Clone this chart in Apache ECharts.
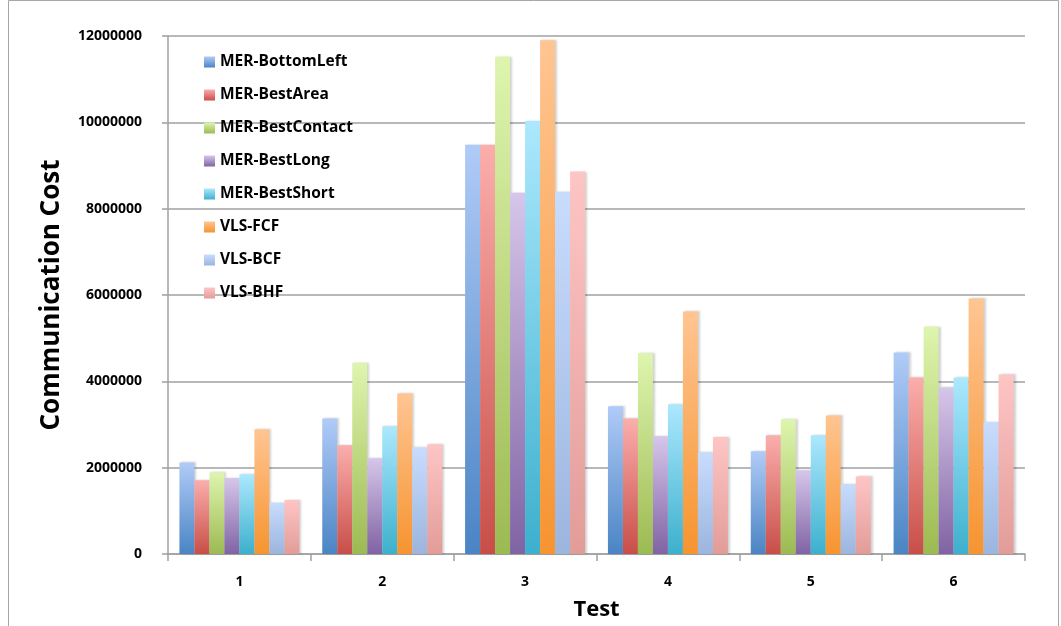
<!DOCTYPE html>
<html>
<head>
<meta charset="utf-8">
<script src="https://cdn.jsdelivr.net/npm/echarts@6/dist/echarts.min.js"></script>
<style>
  html, body { margin: 0; padding: 0; background: #fff; }
  #chart { width: 1061px; height: 626px; }
</style>
</head>
<body>
<div id="chart"></div>
<script>
// Test cases along the x axis
const categories = ['1', '2', '3', '4', '5', '6'];

// Communication cost per placement strategy, one value per test
const merBottomLeft  = [2120000, 3140000, 9480000, 3420000, 2380000, 4670000];
const merBestArea    = [1710000, 2520000, 9480000, 3140000, 2750000, 4090000];
const merBestContact = [1890000, 4430000, 11520000, 4650000, 3120000, 5270000];
const merBestLong    = [1760000, 2220000, 8370000, 2730000, 1940000, 3860000];
const merBestShort   = [1850000, 2960000, 10030000, 3470000, 2750000, 4090000];
const vlsFCF         = [2890000, 3720000, 11900000, 5620000, 3210000, 5920000];
const vlsBCF         = [1190000, 2470000, 8390000, 2360000, 1620000, 3050000];
const vlsBHF         = [1250000, 2540000, 8860000, 2710000, 1800000, 4160000];

const seriesNames = ['MER-BottomLeft', 'MER-BestArea', 'MER-BestContact', 'MER-BestLong',
                     'MER-BestShort', 'VLS-FCF', 'VLS-BCF', 'VLS-BHF'];
const seriesValues = [merBottomLeft, merBestArea, merBestContact, merBestLong,
                      merBestShort, vlsFCF, vlsBCF, vlsBHF];

// Tick values on the cost axis
const yTicks = [0, 2000000, 4000000, 6000000, 8000000, 10000000, 12000000];

// [top, bottom] gradient stops for each series
const palette = [
  ['#b0cbf7', '#4a84c4'],
  ['#fbaeac', '#c84e48'],
  ['#def5ae', '#9cba52'],
  ['#d6c6ea', '#8063a4'],
  ['#ace8fd', '#3cb0cd'],
  ['#ffc592', '#f69430'],
  ['#c8dcfd', '#9cb5de'],
  ['#fec5c5', '#e29c98']
];

const grad = (c) => new echarts.graphic.LinearGradient(0, 0, 0, 1, [
  { offset: 0, color: c[0] },
  { offset: 1, color: c[1] }
]);

const chart = echarts.init(document.getElementById('chart'), null, { renderer: 'canvas' });
const font = '"Open Sans", sans-serif';

chart.setOption({
  animation: false,
  backgroundColor: '#ffffff',
  textStyle: { fontFamily: font },
  graphic: [{
    type: 'rect',
    shape: { x: 8.5, y: 0.5, width: 1050, height: 640 },
    style: { fill: 'none', stroke: '#a6a6a6', lineWidth: 1 },
    silent: true
  }],
  legend: {
    orient: 'vertical',
    left: 199,
    top: 49,
    itemWidth: 11,
    itemHeight: 11,
    itemGap: 17,
    icon: 'rect',
    textStyle: { fontFamily: font, fontWeight: 'bold', fontSize: 15.5, lineHeight: 14, color: '#000' },
    data: seriesNames
  },
  grid: { left: 168, right: 36, top: 36, bottom: 71, containLabel: false },
  xAxis: {
    type: 'category',
    data: categories,
    name: 'Test',
    nameLocation: 'middle',
    nameGap: 45,
    nameTextStyle: { fontFamily: font, fontWeight: 'bold', fontSize: 22, color: '#000' },
    axisLine: { lineStyle: { color: '#a0a0a0', width: 1.5 } },
    axisTick: { show: true, alignWithLabel: false, length: 7, lineStyle: { color: '#a0a0a0', width: 1.5 } },
    axisLabel: { fontFamily: font, fontWeight: 'bold', fontSize: 14, color: '#000', margin: 21 }
  },
  yAxis: {
    type: 'value',
    min: 0,
    max: 12000000,
    interval: 2000000,
    name: 'Communication Cost',
    nameLocation: 'middle',
    nameGap: 103,
    nameRotate: 90,
    nameTextStyle: { fontFamily: font, fontWeight: 'bold', fontSize: 26, color: '#000' },
    axisLine: { show: true, lineStyle: { color: '#a0a0a0', width: 1.5 } },
    axisTick: { show: true, length: 6, lineStyle: { color: '#a0a0a0', width: 1.5 } },
    axisLabel: {
      fontFamily: font, fontWeight: 'bold', fontSize: 14, color: '#000', margin: 26,
      formatter: (v) => (yTicks.includes(v) ? String(v) : '')
    },
    splitLine: { lineStyle: { color: '#a0a0a0', width: 1.5 } }
  },
  series: seriesNames.map((name, i) => ({
    name,
    type: 'bar',
    data: seriesValues[i],
    barGap: '0%',
    barCategoryGap: '16%',
    itemStyle: {
      color: grad(palette[i]),
      shadowColor: 'rgba(0,0,0,0.18)',
      shadowBlur: 2,
      shadowOffsetX: 2
    }
  }))
});
</script>
</body>
</html>
